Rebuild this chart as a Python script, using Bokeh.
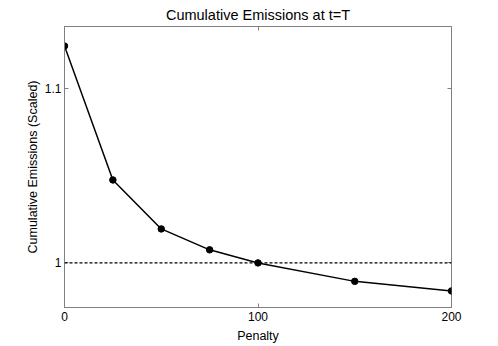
from bokeh.plotting import figure
from bokeh.models import Range1d, LinearAxis, FixedTicker, Span, Title
from bokeh.embed import file_html
from bokeh.resources import INLINE

penalty = [0, 25, 50, 75, 100, 150, 200]
emissions = [1.1245, 1.0476, 1.0195, 1.0075, 1.0, 0.9894, 0.9839]
x_ticks = [0, 100, 200]
y_ticks = [1.0, 1.1]
y_tick_labels = {1.0: "1", 1.1: "1.1"}
reference_level = 1.0

FONT = "Liberation Sans"
BOX = "#808080"

p = figure(
    output_backend="svg", toolbar_location=None,
    frame_width=387, frame_height=281,
    min_border_left=64, min_border_right=39, min_border_top=26, min_border_bottom=38,
    x_range=Range1d(0, 200), y_range=Range1d(0.9744, 1.1357),
    title=None,
)

p.grid.visible = False
p.outline_line_color = BOX
p.outline_line_width = 1
p.background_fill_color = "white"
p.border_fill_color = "white"

def style_axis(ax, labels=True):
    ax.axis_line_color = BOX
    ax.major_tick_line_color = BOX
    ax.major_tick_in = 4
    ax.major_tick_out = 0
    ax.minor_tick_line_color = None
    ax.major_label_text_font = FONT
    ax.major_label_text_font_size = "12px"
    ax.major_label_text_color = "black"
    ax.axis_label_text_font = FONT
    ax.axis_label_text_font_size = "12.5px"
    ax.axis_label_text_font_style = "normal"
    ax.axis_label_text_color = "black"
    if not labels:
        ax.major_label_text_font_size = "0px"
        ax.axis_line_color = None

xa = p.xaxis[0]
xa.ticker = FixedTicker(ticks=x_ticks)
xa.axis_label = "Penalty"
xa.major_label_standoff = 4
xa.axis_label_standoff = 5
style_axis(xa)

ya = p.yaxis[0]
ya.ticker = FixedTicker(ticks=y_ticks)
ya.major_label_overrides = y_tick_labels
ya.axis_label = "Cumulative Emissions (Scaled)"
ya.major_label_standoff = 3
ya.axis_label_standoff = 2
style_axis(ya)

top = LinearAxis(ticker=FixedTicker(ticks=x_ticks), major_label_overrides={t: "" for t in x_ticks})
style_axis(top, labels=False)
top.major_label_standoff = 0
p.add_layout(top, "above")

right = LinearAxis(ticker=FixedTicker(ticks=y_ticks), major_label_overrides={t: "" for t in y_ticks})
style_axis(right, labels=False)
right.major_label_standoff = 0
p.add_layout(right, "right")

p.add_layout(Title(text="Cumulative Emissions at t=T", align="center",
                   text_font=FONT, text_font_size="14.5px", text_font_style="normal",
                   text_color="black", standoff=7, offset=0), "above")

p.add_layout(Span(location=reference_level, dimension="width", line_color="black",
                  line_width=1.2, line_dash="3 2"))

p.line(penalty, emissions, line_color="black", line_width=1.5)
p.scatter(penalty, emissions, size=6.5, fill_color="black", line_color="black")

open("out.html", "w").write(file_html(p, INLINE))
